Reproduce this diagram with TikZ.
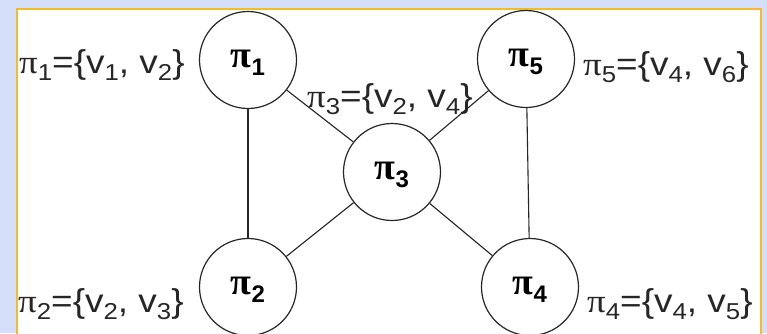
\documentclass[tikz,border=0pt]{standalone}
\usepackage{fontspec}
\setmainfont{Liberation Sans}
\newfontfamily\pifont{Liberation Serif}
\definecolor{bgblue}{HTML}{D5DFF9}
\definecolor{framegold}{HTML}{F5BC2A}
\newcommand{\pisub}[2]{{\pifont π}\raisebox{-0.22em}{\fontsize{#2}{#2}\selectfont #1}}
\newcommand{\vsub}[2]{v\raisebox{-0.22em}{\fontsize{#2}{#2}\selectfont #1}}
\newcommand{\setlab}[3]{\scalebox{1.12}[1]{\pisub{#1}{23}={\{}\vsub{#2}{23}, \vsub{#3}{23}{\}}}}
\tikzset{
  vert/.style={circle, draw=black!85, line width=1.2pt, fill=white, minimum size=97pt, inner sep=0pt,
    text height=20pt, text depth=5pt,
    font=\fontsize{38}{38}\selectfont\bfseries},
  edge/.style={draw=black!85, line width=1.1pt},
  lab/.style={inner sep=0pt, font=\fontsize{33}{33}\selectfont, text=black!85}
}
\begin{document}
\begin{tikzpicture}[x=1pt,y=1pt]
\useasboundingbox (0,0) rectangle (767,333);
\fill[bgblue] (0,0) rectangle (767,333);
\filldraw[fill=white, draw=framegold, line width=2pt] (17,-5) rectangle (761,324);
\node[vert] (p1) at (248,273) {\pisub{1}{24}};
\node[vert] (p5) at (526,274) {\pisub{5}{24}};
\node[vert] (p3) at (392,161) {\pisub{3}{24}};
\node[vert] (p2) at (248,46) {\pisub{2}{24}};
\node[vert] (p4) at (530,46) {\pisub{4}{24}};
\draw[edge] (p1) -- (p2);
\draw[edge] (p5) -- (p4);
\draw[edge] (p1) -- (p3);
\draw[edge] (p5) -- (p3);
\draw[edge] (p2) -- (p3);
\draw[edge] (p4) -- (p3);
\node[lab, anchor=west] (l1) at (19,268) {\setlab{1}{1}{2}};
\node[lab, anchor=west] (l5) at (583,266) {\setlab{5}{4}{6}};
\node[lab, anchor=west] (l3) at (307,234) {\setlab{3}{2}{4}};
\node[lab, anchor=west] (l2) at (18,29) {\setlab{2}{2}{3}};
\node[lab, anchor=west] (l4) at (587,29) {\setlab{4}{4}{5}};
\end{tikzpicture}
\end{document}
